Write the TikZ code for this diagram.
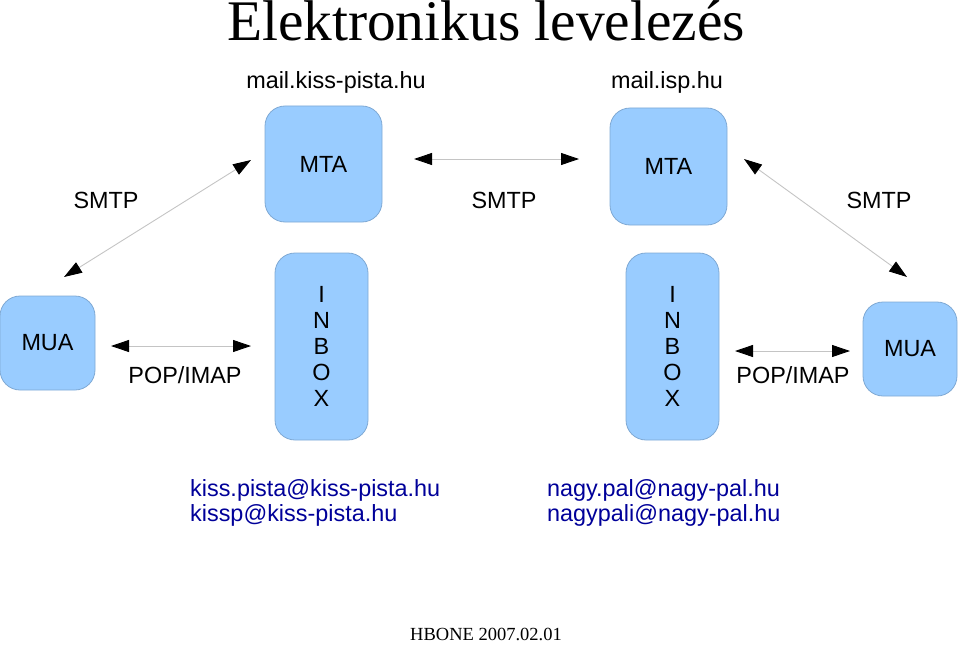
\documentclass[tikz,border=0pt]{standalone}
\usepackage{fontspec}
\setmainfont{Liberation Serif}
\setsansfont{Liberation Sans}
\usetikzlibrary{arrows.meta}

\definecolor{boxblue}{HTML}{99CCFF}
\definecolor{boxline}{HTML}{7FA9D4}
\definecolor{linkgray}{HTML}{C4C4C4}
\definecolor{mailblue}{HTML}{000099}

\begin{document}
\begin{tikzpicture}[x=1pt,y=-1pt,
				font=\sffamily\fontsize{23.4}{26}\selectfont,
				box/.style={rectangle, rounded corners=20pt, fill=boxblue, draw=boxline, line width=0.8pt, inner sep=0pt, align=center},
				link/.style={draw=linkgray, line width=0.9pt, {Triangle[length=18pt,width=12pt,color=black]}-{Triangle[length=18pt,width=12pt,color=black]}},
				tag/.style={anchor=base, inner sep=0pt},
				mail/.style={anchor=base west, inner sep=0pt, text=mailblue}]
					\useasboundingbox (0,0) rectangle (960,650);
					\node[tag, font=\rmfamily\fontsize{57.4}{60}\selectfont] (title) at (486,41) {Elektronikus levelezés};
					\node[tag] (host1) at (336,89) {mail.kiss-pista.hu};
					\node[tag] (host2) at (667,89) {mail.isp.hu};
					% servers and clients
					\node[box, minimum width=117pt, minimum height=116pt] (mta1) at (323.5,164) {MTA};
					\node[box, minimum width=117pt, minimum height=117pt] (mta2) at (668.5,166.5) {MTA};
					\node[box, minimum width=93pt, minimum height=187pt] (inbox1) at (321.5,346.5) {I\\N\\B\\O\\X};
					\node[box, minimum width=93pt, minimum height=187pt] (inbox2) at (672.5,346.5) {I\\N\\B\\O\\X};
					\node[box, minimum width=95pt, minimum height=94pt] (mua1) at (47.5,343) {MUA};
					\node[box, minimum width=94pt, minimum height=94pt] (mua2) at (910,349) {MUA};
					% protocols
					\node[tag] (smtp1) at (106,208) {SMTP};
					\node[tag] (smtp2) at (504,208) {SMTP};
					\node[tag] (smtp3) at (879,208) {SMTP};
					\node[tag] (pop1) at (185,383) {POP/IMAP};
					\node[tag] (pop2) at (793,383) {POP/IMAP};
					\coordinate (smtp1a) at (64,277);
					\coordinate (smtp1b) at (251,160);
					\coordinate (smtp2a) at (414,159);
					\coordinate (smtp2b) at (579,159);
					\coordinate (smtp3a) at (744,159);
					\coordinate (smtp3b) at (907,277);
					\coordinate (pop1a) at (111,346);
					\coordinate (pop1b) at (251,346);
					\coordinate (pop2a) at (735,351);
					\coordinate (pop2b) at (850,351);
					\draw[link] (smtp1a) -- (smtp1b);
					\draw[link] (smtp2a) -- (smtp2b);
					\draw[link] (smtp3a) -- (smtp3b);
					\draw[link] (pop1a) -- (pop1b);
					\draw[link] (pop2a) -- (pop2b);
					% mailboxes
					\node[mail] (addr1) at (190,496) {kiss.pista@kiss-pista.hu};
					\node[mail] (addr2) at (190,521) {kissp@kiss-pista.hu};
					\node[mail] (addr3) at (547,496) {nagy.pal@nagy-pal.hu};
					\node[mail] (addr4) at (547,521) {nagypali@nagy-pal.hu};
					\node[tag, font=\rmfamily\fontsize{18.5}{20}\selectfont] (date) at (486,640) {HBONE 2007.02.01};
				\end{tikzpicture}
\end{document}
